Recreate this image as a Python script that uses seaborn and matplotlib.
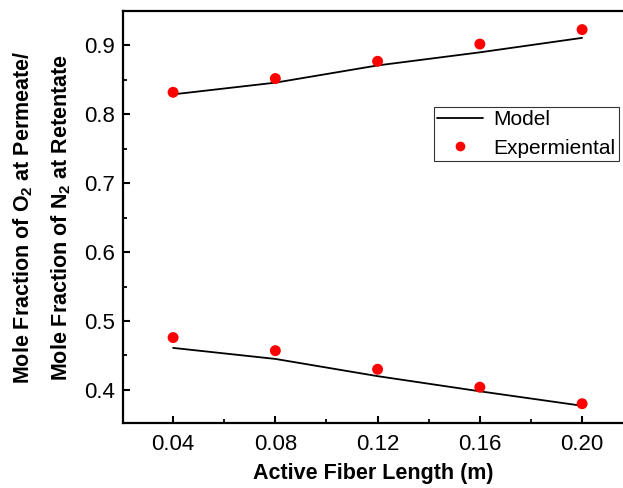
import numpy as np
import pandas as pd
import matplotlib
matplotlib.use("Agg")
import matplotlib.pyplot as plt
import seaborn as sns
from matplotlib.ticker import MultipleLocator
from matplotlib.lines import Line2D

# Data
length = [0.04, 0.08, 0.12, 0.16, 0.20]
model_o2 = [0.829, 0.846, 0.871, 0.890, 0.911]
exp_o2 = [0.832, 0.852, 0.877, 0.902, 0.923]
model_n2 = [0.461, 0.445, 0.420, 0.398, 0.377]
exp_n2 = [0.476, 0.457, 0.430, 0.404, 0.380]
xticks = [0.04, 0.08, 0.12, 0.16, 0.20]
xticklabels = ["0.04", "0.08", "0.12", "0.16", "0.20"]
yticks = [0.4, 0.5, 0.6, 0.7, 0.8, 0.9]

sns.set_theme(style="white")
plt.rcParams["font.family"] = ["Liberation Sans", "DejaVu Sans"]
plt.rcParams["text.color"] = "black"
plt.rcParams["axes.labelcolor"] = "black"
plt.rcParams["mathtext.fontset"] = "custom"
plt.rcParams["mathtext.rm"] = "Liberation Sans"
plt.rcParams["mathtext.bf"] = "Liberation Sans:bold"

model_df = pd.concat([
    pd.DataFrame({"x": length, "y": model_o2, "series": "O2"}),
    pd.DataFrame({"x": length, "y": model_n2, "series": "N2"}),
])
exp_df = pd.concat([
    pd.DataFrame({"x": length, "y": exp_o2, "series": "O2"}),
    pd.DataFrame({"x": length, "y": exp_n2, "series": "N2"}),
])

fig = plt.figure(figsize=(6.23, 4.88), dpi=100)
ax = fig.add_axes([123 / 623, 1 - 423 / 488, 1 - 123 / 623, (423 - 11) / 488])

sns.lineplot(data=model_df, x="x", y="y", units="series", estimator=None,
             color="black", linewidth=1.3, ax=ax, legend=False, sort=False)
sns.scatterplot(data=exp_df, x="x", y="y", color="#ff0000", s=62,
                edgecolor="none", ax=ax, legend=False, zorder=3)

ax.set_xlim(0.0204, 0.216)
ax.set_ylim(0.352, 0.950)
ax.set_xticks(xticks)
ax.set_xticklabels(xticklabels)
ax.set_yticks(yticks)
ax.xaxis.set_minor_locator(MultipleLocator(0.02))
ax.yaxis.set_minor_locator(MultipleLocator(0.05))
ax.tick_params(which="major", direction="in", length=5, width=1.5,
               labelsize=16, colors="black", labelcolor="black",
               bottom=True, left=True)
ax.tick_params(axis="x", which="major", pad=8)
ax.tick_params(axis="y", which="major", pad=6)
ax.tick_params(which="minor", direction="in", length=3, width=1.3,
               colors="black", bottom=True, left=True)
for side in ["left", "bottom", "top"]:
    ax.spines[side].set_color("black")
    ax.spines[side].set_linewidth(1.6)
ax.spines["right"].set_visible(False)

ax.set_xlabel("Active Fiber Length (m)", fontsize=15.5, fontweight="bold",
              labelpad=6, color="black")
ax.set_ylabel("Mole Fraction of O$\\mathbf{_2}$ at Permeate/\n"
              "Mole Fraction of N$\\mathbf{_2}$ at Retentate",
              fontsize=15.5, fontweight="bold", labelpad=8, linespacing=1.8,
              color="black")

handles = [Line2D([], [], color="black", linewidth=1.3),
           Line2D([], [], color="#ff0000", marker="o", linestyle="none",
                  markersize=7, markeredgecolor="none")]
leg = ax.legend(handles, ["Model", "Expermiental"], loc="upper left",
                bbox_to_anchor=((434 - 123) / 500, 1 - (107 - 11) / 412),
                fontsize=15, frameon=True, fancybox=False, borderpad=0.15,
                handlelength=2.2, handletextpad=0.5, labelspacing=0.45,
                borderaxespad=0, labelcolor="black")
leg.get_frame().set_edgecolor("black")
leg.get_frame().set_linewidth(0.8)

fig.savefig("out.png", dpi=100)
